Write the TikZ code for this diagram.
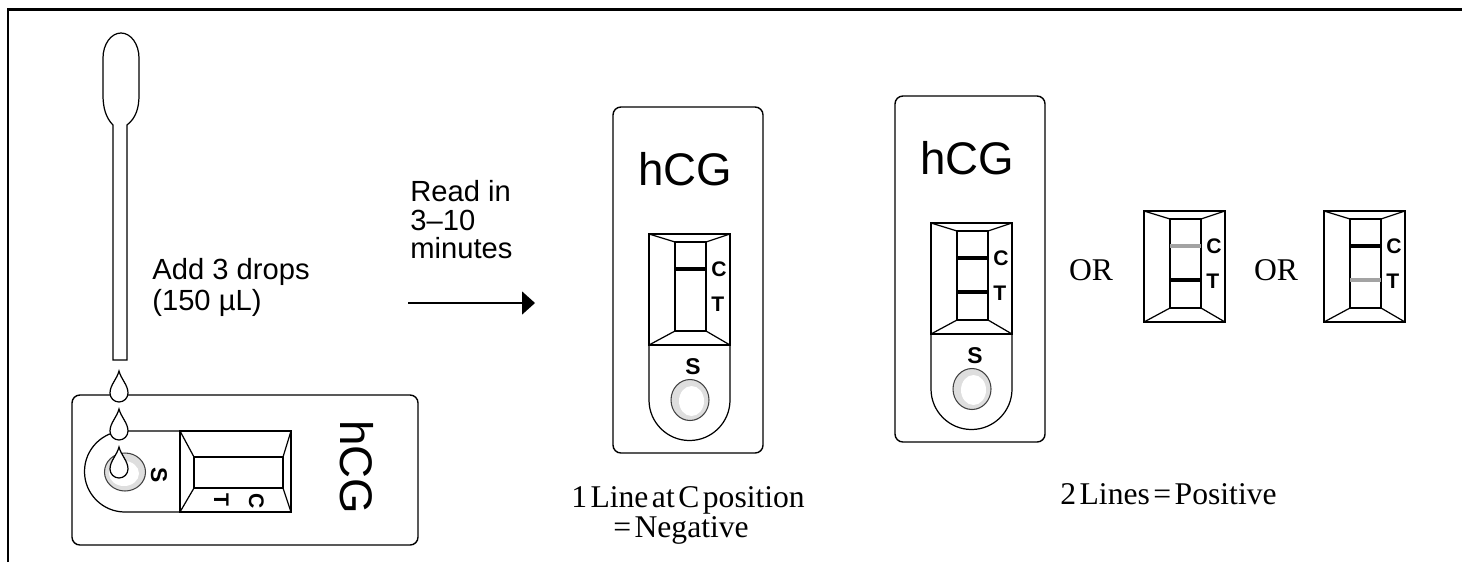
\documentclass[tikz,border=0pt]{standalone}
\usepackage{fontspec}
\setmainfont{Liberation Sans}
\newfontfamily\capfont{Liberation Serif}
\usetikzlibrary{arrows.meta}

\definecolor{bandgray}{gray}{0.64}
\definecolor{wellgray}{gray}{0.87}

\newcommand{\tightwords}{\spaceskip 0.11em\relax}

\tikzset{
  case/.style={line width=0.8pt, rounded corners=4.5pt},
  thinline/.style={line width=0.7pt},
  band/.style={line width=2.3pt},
  wellring/.style={line width=0.6pt, draw=black!75, fill=wellgray},
  stripmark/.style={font=\fontsize{12}{14}\selectfont\bfseries, anchor=base west, inner sep=0pt},
  brand/.style={font=\fontsize{26}{28}\selectfont, anchor=base, inner sep=0pt},
  hint/.style={font=\fontsize{16.6}{18}\selectfont, anchor=base west, inner sep=0pt},
  verdict/.style={font=\capfont\fontsize{18}{20}\selectfont\tightwords, anchor=base, inner sep=0pt},
}

% result window: frame, bevels and the C/T band marks
% #1 name prefix, #2 options of the C band, #3 options of the T band
\newcommand{\readwindow}[3]{%
  \draw[thinline] (0,0) rectangle (81,111);
  \draw[thinline] (26,8) rectangle (57,97);
  \draw[thinline] (0,0) -- (26,8) (81,0) -- (57,8) (0,111) -- (26,97) (81,111) -- (57,97);
  \draw[band,#2] (26,35) -- (57,35);
  \draw[band,#3] (26,69) -- (57,69);
  \node[stripmark] (#1C) at (62,42) {C};
  \node[stripmark] (#1T) at (62,77) {T};
}

% test cassette, origin at its top left corner
\newcommand{\hcgcassette}[3]{%
  \draw[case] (0,0) rectangle (150,346);
  \node[brand] (#1hcg) at (72,78) {hCG};
  \draw[thinline] (36,238) -- (36,293) arc[start angle=180, end angle=0, radius=40.5] -- (117,238);
  \node[stripmark, anchor=base, font=\fontsize{13}{15}\selectfont\bfseries] (#1S) at (80,267) {S};
  \draw[wellring] (77,293) ellipse[x radius=19, y radius=20.5];
  \fill[white] (78.5,294) ellipse[x radius=12.5, y radius=15];
  \begin{scope}[shift={(36,127)}]
    \readwindow{#1}{#2}{#3}
  \end{scope}
}

\newcommand{\waterdrop}[2]{%
  \draw[thinline, fill=white, shift={(#1,#2)}] (0,-16) .. controls (2,-8) and (9,-2) .. (9,6)
    arc[start angle=0, end angle=180, radius=9] .. controls (-9,-2) and (-2,-8) .. cycle;
}

\begin{document}
\begin{tikzpicture}[x=0.02cm, y=-0.02cm]
  \useasboundingbox (0,0) rectangle (1462,562);
  \draw[line width=1.6pt] (8,562) -- (8,9.5) -- (1462,9.5);
  %
  % swab
  \draw[thinline, fill=white] (113,360) -- (113,125) .. controls (106,118) and (103,108) .. (103,95)
    -- (103,58) arc[start angle=180, end angle=360, x radius=18, y radius=25]
    -- (139,95) .. controls (139,108) and (136,118) .. (127,125) -- (127,360) -- cycle;
  \node[hint] (adddrops) at (152,279) {Add 3 drops};
  \node[hint] (volume) at (152,310) {(150 µL)};
  %
  % cassette lying flat, sample well on the left
  \begin{scope}[shift={(418,395)}, rotate=-90, transform shape]
    \hcgcassette{flat}{draw=none}{draw=none}
  \end{scope}
  \waterdrop{119}{387}
  \waterdrop{119}{425}
  \waterdrop{119}{463}
  %
  % waiting time
  \node[hint] (readin) at (410,201) {Read in};
  \node[hint] (readrange) at (410,230) {3–10};
  \node[hint] (readunit) at (410,258) {minutes};
  \coordinate (waitstart) at (408,303);
  \coordinate (waitend) at (535,303);
  \draw[line width=0.85pt, -{Triangle[length=0.26cm, width=0.46cm]}] (waitstart) -- (waitend);
  %
  % negative
  \begin{scope}[shift={(613,107)}]
    \hcgcassette{neg}{black}{draw=none}
  \end{scope}
  \node[verdict] (negline) at (688,507) {1 Line at C position};
  \node[verdict] (negres) at (681,537) {= Negative};
  %
  % positive
  \begin{scope}[shift={(895,96)}]
    \hcgcassette{pos}{black}{black}
  \end{scope}
  \node[verdict] (orA) at (1091,280) {OR};
  \begin{scope}[shift={(1144,211)}]
    \readwindow{weakC}{bandgray}{black}
  \end{scope}
  \node[verdict] (orB) at (1276,280) {OR};
  \begin{scope}[shift={(1324,211)}]
    \readwindow{weakT}{black}{bandgray}
  \end{scope}
  \node[verdict, anchor=base west] (posres) at (1060,504) {2 Lines = Positive};
\end{tikzpicture}
\end{document}
